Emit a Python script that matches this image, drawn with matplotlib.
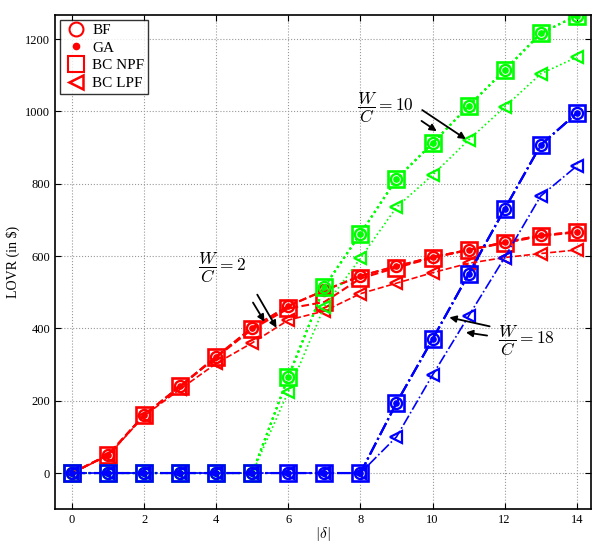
import numpy as np
import matplotlib.pyplot as plt
from matplotlib.lines import Line2D

plt.rcParams['font.family'] = ['Liberation Serif', 'DejaVu Serif']
plt.rcParams['mathtext.fontset'] = 'cm'

delta = np.arange(0, 15)

# W/C = 2 (red)
bf_2 = [0, 50, 160, 240, 322, 402, 462, 505, 545, 572, 597, 617, 638, 657, 667]
npf_2 = [0, 50, 160, 240, 320, 398, 455, 473, 538, 568, 595, 617, 636, 655, 666]
lpf_2 = [0, 48, 158, 232, 303, 360, 423, 448, 496, 525, 554, 580, 596, 607, 617]

# W/C = 10 (green)
bf_10 = [0, 0, 0, 0, 0, 0, 266, 515, 662, 813, 912, 1015, 1114, 1216, 1265]
npf_10 = [0, 0, 0, 0, 0, 0, 266, 515, 662, 813, 912, 1015, 1114, 1216, 1265]
lpf_10 = [0, 0, 0, 0, 0, 0, 225, 460, 594, 735, 824, 921, 1012, 1104, 1150]

# W/C = 18 (blue)
bf_18 = [0, 0, 0, 0, 0, 0, 0, 0, 0, 194, 370, 550, 730, 907, 995]
npf_18 = [0, 0, 0, 0, 0, 0, 0, 0, 0, 194, 370, 550, 730, 907, 995]
lpf_18 = [0, 0, 0, 0, 0, 0, 0, 0, 0, 100, 271, 434, 596, 766, 849]

series = [
    (bf_2, npf_2, lpf_2, (1, 0, 0), '--'),
    (bf_10, npf_10, lpf_10, (0, 1, 0), ':'),
    (bf_18, npf_18, lpf_18, (0, 0, 1), '-.'),
]

fig = plt.figure(figsize=(5.92, 5.44), dpi=100)
ax = fig.add_axes([0.093, 0.064, 0.905, 0.908])

for bf, npf, lpf, col, ls in series:
    ax.plot(delta, npf, ls, color=col, lw=1.5, marker='s', ms=11,
            mfc='none', mec=col, mew=1.9)
    ax.plot(delta, bf, ls, color=col, lw=1.5, marker='o', ms=8,
            mfc='none', mec=col, mew=1.7)
    ax.plot(delta, bf, ls, color=col, lw=1.5, marker='o', ms=3.8,
            mfc=col, mec=col)
    ax.plot(delta, lpf, ls, color=col, lw=1.2, marker='<', ms=8.5,
            mfc='none', mec=col, mew=1.6)

ax.set_xlim(-0.47, 14.39)
ax.set_ylim(-100, 1266)
ax.set_xticks(np.arange(0, 15, 2))
ax.set_yticks(np.arange(0, 1201, 200))
ax.tick_params(direction='in', top=True, right=True, labelsize=9, length=4)
ax.grid(True, linestyle=':', color='#999999', lw=0.8)
for s in ax.spines.values():
    s.set_linewidth(1.2)

ax.set_xlabel(r'$|\delta|$', fontsize=11, labelpad=-1)
ax.set_ylabel('LOVR (in $)', fontsize=10, labelpad=4)

# annotations
arr = dict(arrowstyle='-|>', color='black', lw=1.3, mutation_scale=10)
ax.text(3.5, 567, r'$\dfrac{W}{C} = 2$', fontsize=12.5, va='center', ha='left')
ax.annotate('', xy=(5.38, 412), xytext=(4.98, 478), arrowprops=arr)
ax.annotate('', xy=(5.71, 395), xytext=(5.10, 500), arrowprops=arr)

ax.text(7.9, 1009, r'$\dfrac{W}{C} = 10$', fontsize=12.5, va='center', ha='left')
ax.annotate('', xy=(10.18, 941), xytext=(9.63, 978), arrowprops=arr)
ax.annotate('', xy=(10.99, 919), xytext=(9.65, 1008), arrowprops=arr)

ax.text(11.81, 365, r'$\dfrac{W}{C} = 18$', fontsize=12.5, va='center', ha='left')
ax.annotate('', xy=(10.39, 432), xytext=(11.66, 404), arrowprops=arr)
ax.annotate('', xy=(10.85, 390), xytext=(11.59, 379), arrowprops=arr)

handles = [
    Line2D([], [], ls='none', marker='o', ms=10, mfc='none', mec='red', mew=1.5),
    Line2D([], [], ls='none', marker='o', ms=4.5, mfc='red', mec='red'),
    Line2D([], [], ls='none', marker='s', ms=12, mfc='none', mec='red', mew=1.5),
    Line2D([], [], ls='none', marker='<', ms=10, mfc='none', mec='red', mew=1.8),
]
leg = ax.legend(handles, ['BF', 'GA', 'BC NPF', 'BC LPF'], loc='upper left',
                fontsize=11, frameon=True, fancybox=False, edgecolor='black',
                borderaxespad=0.3, handletextpad=0.3, labelspacing=0.25,
                borderpad=0.25, handlelength=1.6)
leg.get_frame().set_linewidth(1.0)

fig.savefig('out.png', dpi=100)
